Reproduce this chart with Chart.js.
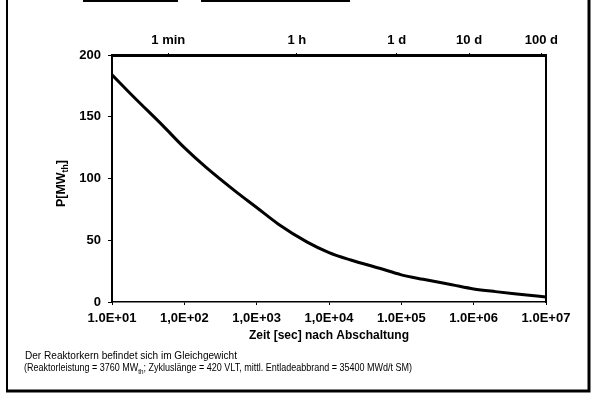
<!DOCTYPE html>
<html>
<head>
<meta charset="utf-8">
<script src="https://cdn.jsdelivr.net/npm/chart.js@4.4.1/dist/chart.umd.min.js"></script>
<style>
  html, body { margin: 0; padding: 0; background: #fff; }
  canvas { display: block; }
</style>
</head>
<body>
<canvas id="myChart" width="600" height="397"></canvas>
<script>
/*------------------------------ data ------------------------------*/
const timeSec = [1e1, 2e1, 5e1, 1e2, 2e2, 5e2, 1e3, 2e3, 5e3, 1e4,
                 2e4, 5e4, 1e5, 2e5, 5e5, 1e6, 2e6, 5e6, 1e7];
const powerMW = [184, 166, 143, 125, 109, 90, 76.5, 63, 48.5, 40,
                 34, 27.3, 22, 18.4, 14, 10.6, 8.4, 5.9, 4.0];

const bottomTicks = [1e1, 1e2, 1e3, 1e4, 1e5, 1e6, 1e7];
const bottomLabels = ['1.0E+01', '1,0E+02', '1,0E+03', '1,0E+04', '1.0E+05', '1.0E+06', '1.0E+07'];
const topTicks = [60, 3600, 86400, 864000, 8640000];
const topLabels = ['1 min', '1 h', '1 d', '10 d', '100 d'];

const xTitle = 'Zeit [sec] nach Abschaltung';
// [text, tiefgestellt?]
const yTitle = [['P[MW', false], ['th', true], [']', false]];
const noteLine1 = [['Der Reaktorkern befindet sich im Gleichgewicht', false]];
const noteLine2 = [['(Reaktorleistung = 3760 MW', false], ['th', true],
                   ['; Zykluslänge = 420 VLT, mittl. Entladeabbrand = 35400 MWd/t SM)', false]];

/*------------------------------ style -----------------------------*/
const FONT = "'Liberation Sans', Arial, sans-serif";
const tickFont = { family: FONT, size: 13, weight: 'bold' };

// Text mit Tiefstellung zeichnen
function drawRich(ctx, parts, x, y, size, weight) {
    let cx = x;
    parts.forEach(([txt, sub]) => {
        const s = sub ? size * 0.7 : size;
        ctx.font = `${weight} ${s}px ${FONT}`;
        ctx.fillText(txt, cx, sub ? y + size * 0.25 : y);
        cx += ctx.measureText(txt).width;
    });
}
function richWidth(ctx, parts, size, weight) {
    let w = 0;
    parts.forEach(([txt, sub]) => {
        ctx.font = `${weight} ${sub ? size * 0.7 : size}px ${FONT}`;
        w += ctx.measureText(txt).width;
    });
    return w;
}
// schmale Schrift: horizontal auf Zielbreite stauchen
function drawRichFit(ctx, parts, x, y, size, weight, targetW) {
    const w = richWidth(ctx, parts, size, weight);
    ctx.save();
    ctx.translate(x, y);
    ctx.scale(Math.min(1, targetW / w), 1);
    drawRich(ctx, parts, 0, 0, size, weight);
    ctx.restore();
}

const decoPlugin = {
    id: 'deco',
    afterDraw(chart) {
        const ctx = chart.ctx;
        ctx.save();
        ctx.fillStyle = '#000';
        ctx.textBaseline = 'alphabetic';
        ctx.textAlign = 'left';

        // y-Achsentitel
        ctx.save();
        ctx.translate(65, 207);
        ctx.rotate(-Math.PI / 2);
        drawRichFit(ctx, yTitle, 0, 0, 13, 'bold', 47);
        ctx.restore();

        // Fußnote
        drawRichFit(ctx, noteLine1, 25, 359, 11, 'normal', 212);
        drawRichFit(ctx, noteLine2, 24, 371, 11, 'normal', 388);

        // Rahmen
        ctx.strokeStyle = '#000';
        ctx.lineWidth = 2;
        ctx.beginPath();
        ctx.moveTo(7, 0); ctx.lineTo(7, 391);
        ctx.stroke();
        ctx.lineWidth = 3;
        ctx.beginPath();
        ctx.moveTo(6, 391); ctx.lineTo(589, 391); ctx.lineTo(589, 0);
        ctx.stroke();
        ctx.lineWidth = 2;
        ctx.beginPath();
        ctx.moveTo(83, 1); ctx.lineTo(178, 1);
        ctx.moveTo(201, 1); ctx.lineTo(350, 1);
        ctx.stroke();
        ctx.restore();
    }
};

/*------------------------------ chart -----------------------------*/
const config = {
    type: 'line',
    data: {
        datasets: [{
            data: timeSec.map((t, i) => ({ x: t, y: powerMW[i] })),
            borderColor: '#000',
            borderWidth: 3,
            pointRadius: 0,
            fill: false,
            cubicInterpolationMode: 'monotone'
        }]
    },
    options: {
        responsive: false,
        animation: false,
        layout: { padding: { left: 77, right: 54, top: 25, bottom: 51 } },
        plugins: {
            legend: { display: false },
            tooltip: { enabled: false }
        },
        scales: {
            x: {
                type: 'logarithmic',
                position: 'bottom',
                min: 1e1,
                max: 1e7,
                afterBuildTicks: s => { s.ticks = bottomTicks.map(v => ({ value: v })); },
                afterFit: s => { s.height = 44; },
                ticks: {
                    callback: (v, i) => bottomLabels[i],
                    font: tickFont,
                    color: '#000',
                    padding: 6,
                    maxRotation: 0,
                    autoSkip: false
                },
                grid: { drawOnChartArea: false, tickLength: 3, color: '#000' },
                border: { color: '#000', width: 1.5 },
                title: {
                    display: true,
                    text: xTitle,
                    font: { family: FONT, size: 12, weight: 'bold' },
                    color: '#000',
                    padding: { top: 4, bottom: 3 }
                }
            },
            xTop: {
                type: 'logarithmic',
                axis: 'x',
                position: 'top',
                min: 1e1,
                max: 1e7,
                afterBuildTicks: s => { s.ticks = topTicks.map(v => ({ value: v })); },
                afterFit: s => { s.height = 30; },
                ticks: {
                    callback: (v, i) => topLabels[i],
                    font: tickFont,
                    color: '#000',
                    padding: 5,
                    maxRotation: 0,
                    autoSkip: false
                },
                grid: { drawOnChartArea: false, tickLength: 2, color: '#000' },
                border: { color: '#000', width: 3 }
            },
            y: {
                min: 0,
                max: 200,
                afterFit: s => { s.width = 35; },
                ticks: { stepSize: 50, font: tickFont, color: '#000', padding: 7 },
                grid: { drawOnChartArea: false, tickLength: 4, color: '#000' },
                border: { color: '#000', width: 2 }
            },
            yRight: {
                position: 'right',
                afterFit: s => { s.width = 0; },
                ticks: { display: false },
                grid: { drawOnChartArea: false, drawTicks: false },
                border: { color: '#000', width: 2 }
            }
        }
    },
    plugins: [decoPlugin]
};

const myChart = new Chart(document.getElementById('myChart'), config);
</script>
</body>
</html>
